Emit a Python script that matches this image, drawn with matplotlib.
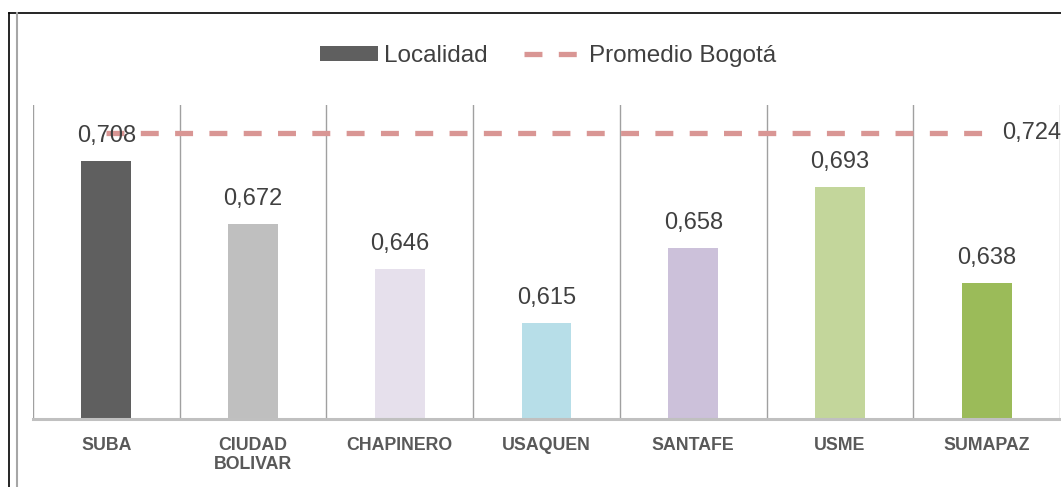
import matplotlib
matplotlib.use("Agg")
import matplotlib.pyplot as plt
from matplotlib.lines import Line2D
from matplotlib.patches import Patch
import numpy as np

plt.rcParams['font.family'] = ['Liberation Sans', 'DejaVu Sans']

categories = ["SUBA", "CIUDAD\nBOLIVAR", "CHAPINERO", "USAQUEN", "SANTAFE", "USME", "SUMAPAZ"]
values = [0.708, 0.672, 0.646, 0.615, 0.658, 0.693, 0.638]
bar_colors = ["#5F5F5F", "#BFBFBF", "#E6E0EC", "#B7DEE8", "#CCC1DA", "#C3D69B", "#9BBB59"]
promedio = 0.724
legend_labels = ["Localidad", "Promedio Bogotá"]

def fmt(v):
    return f"{v:.3f}".replace(".", ",")

W, H = 1061, 487
fig = plt.figure(figsize=(W / 100, H / 100), dpi=100)
ax = fig.add_axes([33 / W, 1 - 419 / H, (1060 - 33) / W, (419 - 105) / H])

x = np.arange(len(categories))
ax.bar(x, values, width=0.34, color=bar_colors, zorder=2)

dash_color = "#D99694"
ax.plot([x[0], x[-1]], [promedio, promedio], color=dash_color, lw=3.8,
        linestyle=(0, (3.4, 3.1)), zorder=3, solid_capstyle='butt', dash_capstyle='butt')

for xi, v in zip(x, values):
    ax.annotate(fmt(v), (xi, v), xytext=(0, 10), textcoords="offset points",
                ha="center", va="bottom", fontsize=17, color="#404040", zorder=4)

ax.annotate(fmt(promedio), (x[-1], promedio), xytext=(11.5, 0), textcoords="offset points",
            ha="left", va="center", fontsize=17, color="#404040", zorder=4,
            annotation_clip=False)

ax.set_xlim(-0.5, len(categories) - 0.5)
ax.set_ylim(0.56, 0.74)

# vertical separators
for b in np.arange(-0.5, len(categories), 1.0):
    ax.axvline(b, color="#A0A0A0", lw=1.0, zorder=1)

for s in ["top", "left", "right"]:
    ax.spines[s].set_visible(False)
ax.spines["bottom"].set_color("#C0C0C0")
ax.spines["bottom"].set_linewidth(2.2)
ax.spines["bottom"].set_zorder(5)

ax.set_yticks([])
ax.set_xticks(x)
ax.set_xticklabels(categories, fontsize=12.8, fontweight="bold", color="#595959", linespacing=1.15)
ax.tick_params(axis="x", length=0, pad=13)

handles = [Patch(facecolor="#5F5F5F", edgecolor="none"),
           Line2D([0], [0], color=dash_color, lw=3.8, linestyle=(0, (3.4, 3.1)))]
fig.legend(handles, legend_labels, loc="center", bbox_to_anchor=(548 / W, 1 - 56 / H),
           ncol=2, frameon=False, fontsize=17.5, labelcolor="#404040",
           handlelength=2.4, handleheight=0.55, handletextpad=0.25, columnspacing=1.5)

# outer frame lines
fig.add_artist(Line2D([8.5 / W, 8.5 / W], [0, 1 - 12.5 / H], transform=fig.transFigure, color="black", lw=1.2))
fig.add_artist(Line2D([8.5 / W, 1], [1 - 12.5 / H, 1 - 12.5 / H], transform=fig.transFigure, color="black", lw=1.2))
fig.add_artist(Line2D([16.5 / W, 16.5 / W], [0, 1 - 12.5 / H], transform=fig.transFigure, color="#A6A6A6", lw=1.5))

fig.savefig("out.png", dpi=100)
